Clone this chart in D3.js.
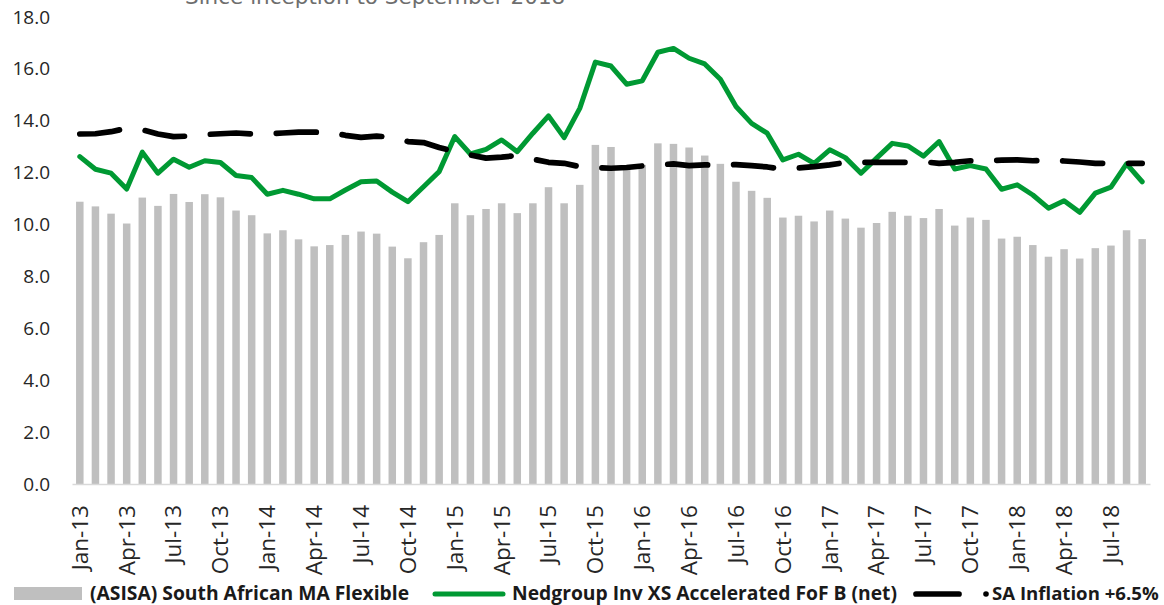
<!DOCTYPE html>
<html>
<head>
<meta charset="utf-8">
<script src="https://cdn.jsdelivr.net/npm/d3@7"></script>
<style>
  body { margin: 0; background: #fff; }
  .tick-label { font-family: "Open Sans", sans-serif; font-size: 19px; fill: #262626; }
  .x-label { font-family: "Open Sans", sans-serif; font-size: 22.5px; fill: #262626; }
  .legend-text { font-family: "Open Sans", sans-serif; font-size: 19.3px; font-weight: bold; fill: #1a1a1a; }
</style>
</head>
<body>
<div class="chart"></div>
<script>
const months = [
  "Jan-13","Feb-13","Mar-13","Apr-13","May-13","Jun-13","Jul-13","Aug-13","Sep-13","Oct-13","Nov-13","Dec-13",
  "Jan-14","Feb-14","Mar-14","Apr-14","May-14","Jun-14","Jul-14","Aug-14","Sep-14","Oct-14","Nov-14","Dec-14",
  "Jan-15","Feb-15","Mar-15","Apr-15","May-15","Jun-15","Jul-15","Aug-15","Sep-15","Oct-15","Nov-15","Dec-15",
  "Jan-16","Feb-16","Mar-16","Apr-16","May-16","Jun-16","Jul-16","Aug-16","Sep-16","Oct-16","Nov-16","Dec-16",
  "Jan-17","Feb-17","Mar-17","Apr-17","May-17","Jun-17","Jul-17","Aug-17","Sep-17","Oct-17","Nov-17","Dec-17",
  "Jan-18","Feb-18","Mar-18","Apr-18","May-18","Jun-18","Jul-18","Aug-18","Sep-18"
];

// (ASISA) South African MA Flexible - bars
const sectorValues = [
  10.88,10.70,10.42,10.04,11.04,10.72,11.18,10.87,11.17,11.05,10.54,10.36,
  9.66,9.78,9.43,9.16,9.21,9.60,9.73,9.65,9.15,8.70,9.32,9.60,
  10.82,10.36,10.60,10.82,10.44,10.82,11.44,10.82,11.53,13.07,12.99,12.25,
  12.30,13.13,13.11,12.97,12.66,12.34,11.65,11.30,11.03,10.27,10.34,10.12,
  10.54,10.23,9.88,10.06,10.49,10.34,10.25,10.60,9.96,10.27,10.18,9.46,
  9.53,9.21,8.76,9.05,8.69,9.09,9.19,9.78,9.44
];

// Nedgroup Inv XS Accelerated FoF B (net)
const fundValues = [
  12.62,12.13,11.98,11.37,12.79,11.98,12.52,12.21,12.46,12.39,11.89,11.81,
  11.17,11.32,11.17,10.99,10.99,11.33,11.65,11.68,11.25,10.88,11.46,12.04,
  13.39,12.72,12.90,13.26,12.81,13.52,14.19,13.35,14.48,16.26,16.11,15.41,
  15.54,16.64,16.79,16.41,16.19,15.60,14.55,13.90,13.52,12.49,12.71,12.36,
  12.88,12.58,11.98,12.56,13.13,13.03,12.64,13.20,12.14,12.27,12.14,11.36,
  11.53,11.14,10.63,10.92,10.47,11.21,11.44,12.34,11.65
];

// SA Inflation +6.5%
const inflationValues = [
  13.49,13.50,13.58,13.71,13.65,13.49,13.39,13.41,13.47,13.50,13.53,13.49,
  13.50,13.53,13.56,13.56,13.56,13.44,13.36,13.41,13.36,13.20,13.16,12.97,
  12.81,12.68,12.56,12.60,12.66,12.52,12.40,12.36,12.23,12.20,12.17,12.20,
  12.26,12.30,12.34,12.27,12.30,12.30,12.31,12.27,12.22,12.13,12.18,12.23,
  12.30,12.39,12.40,12.40,12.40,12.40,12.42,12.36,12.40,12.46,12.46,12.48,
  12.49,12.46,12.49,12.45,12.41,12.36,12.36,12.36,12.36
];

const yTicks = [0, 2, 4, 6, 8, 10, 12, 14, 16, 18];
const tickMonths = months.filter((m, i) => i % 3 === 0);

const seriesNames = ["(ASISA) South African MA Flexible", "Nedgroup Inv XS Accelerated FoF B (net)", "SA Inflation +6.5%"];

const width = 1164, height = 605;
const margin = {top: 17, right: 14, bottom: 121, left: 72};

const svg = d3.select(".chart").append("svg")
    .attr("width", width)
    .attr("height", height);

const x = d3.scaleBand()
    .domain(months)
    .range([margin.left, width - margin.right])
    .paddingInner(0.52)
    .paddingOuter(0.26);

const y = d3.scaleLinear()
    .domain([0, 18])
    .range([height - margin.bottom, margin.top]);

const cx = d => x(d) + x.bandwidth() / 2;

// subtitle, cut at the top edge as in the source
svg.append("text")
    .text("Since inception to September 2018")
    .attr("x", 185)
    .attr("y", 4)
    .attr("font-family", "DejaVu Sans, sans-serif")
    .attr("font-size", 21.5)
    .attr("fill", "#6e6e6e");

// bars
svg.selectAll(".bar")
    .data(months)
    .enter()
    .append("rect")
    .attr("class", "bar")
    .attr("x", d => x(d))
    .attr("width", x.bandwidth())
    .attr("y", (d, i) => y(sectorValues[i]))
    .attr("height", (d, i) => y(0) - y(sectorValues[i]))
    .attr("fill", "#bfbfbf");

// x axis
const xAxis = d3.axisBottom(x)
    .tickValues(tickMonths)
    .tickSize(0)
    .tickPadding(0);

const gx = svg.append("g")
    .attr("transform", "translate(0," + y(0) + ")")
    .call(xAxis);
gx.select(".domain").attr("stroke", "#d9d9d9").attr("stroke-width", 1.5);
gx.selectAll("text")
    .attr("class", "x-label")
    .attr("text-anchor", "end")
    .attr("transform", "rotate(-90)")
    .attr("x", -21)
    .attr("y", 0)
    .attr("dy", "0.35em");

// y axis labels
const yAxis = d3.axisLeft(y)
    .tickValues(yTicks)
    .tickFormat(d3.format(".1f"))
    .tickSize(0)
    .tickPadding(22);

const gy = svg.append("g")
    .attr("transform", "translate(" + margin.left + ",0)")
    .call(yAxis);
gy.select(".domain").remove();
gy.selectAll("text").attr("class", "tick-label");

// lines
const line = d3.line()
    .x((d, i) => cx(months[i]))
    .y(d => y(d));

svg.append("path")
    .datum(fundValues)
    .attr("d", line)
    .attr("fill", "none")
    .attr("stroke", "#009933")
    .attr("stroke-width", 5)
    .attr("stroke-linejoin", "round")
    .attr("stroke-linecap", "round");

svg.append("path")
    .datum(inflationValues)
    .attr("d", line)
    .attr("fill", "none")
    .attr("stroke", "#000")
    .attr("stroke-width", 5.7)
    .attr("stroke-linecap", "round")
    .attr("stroke-linejoin", "round")
    .attr("stroke-dasharray", "40,26");

// legend
const legendY = 594;
const textY = 599.5;
const legend = svg.append("g");

legend.append("rect")
    .attr("x", 14).attr("y", 587)
    .attr("width", 68).attr("height", 13)
    .attr("fill", "#bfbfbf");
legend.append("text")
    .attr("class", "legend-text")
    .attr("x", 90).attr("y", textY)
    .text(seriesNames[0]);

legend.append("line")
    .attr("x1", 435).attr("x2", 503)
    .attr("y1", legendY).attr("y2", legendY)
    .attr("stroke", "#009933")
    .attr("stroke-width", 5)
    .attr("stroke-linecap", "round");
legend.append("text")
    .attr("class", "legend-text")
    .attr("x", 512).attr("y", textY)
    .text(seriesNames[1]);

legend.append("line")
    .attr("x1", 916).attr("x2", 959)
    .attr("y1", legendY).attr("y2", legendY)
    .attr("stroke", "#000")
    .attr("stroke-width", 5.7)
    .attr("stroke-linecap", "round");
legend.append("circle")
    .attr("cx", 986).attr("cy", legendY)
    .attr("r", 2.8)
    .attr("fill", "#000");
legend.append("text")
    .attr("class", "legend-text")
    .attr("x", 992).attr("y", textY)
    .style("font-size", "18.6px")
    .text(seriesNames[2]);
</script>
</body>
</html>
